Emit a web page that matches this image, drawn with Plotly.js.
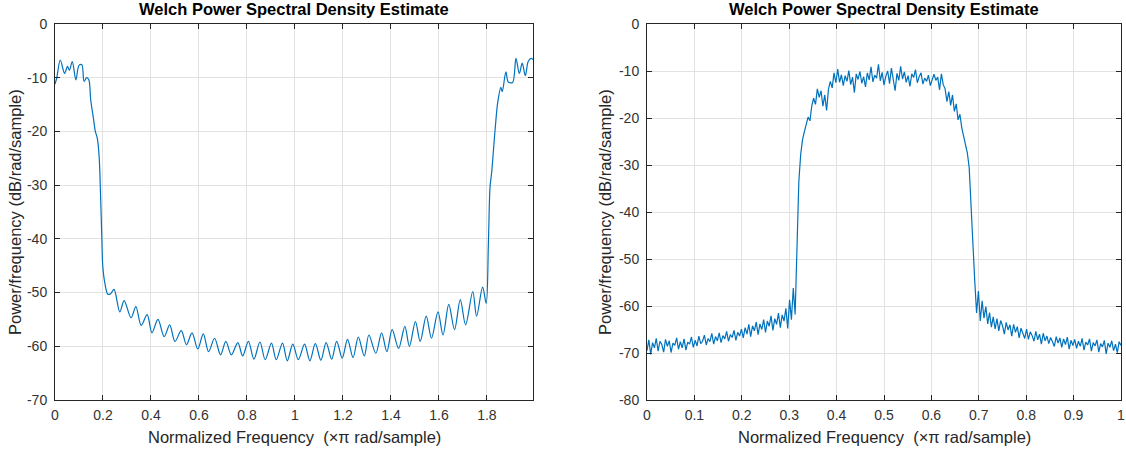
<!DOCTYPE html>
<html><head><meta charset="utf-8">
<script src="https://cdn.plot.ly/plotly-3.0.1.min.js"></script>
<style>html,body{margin:0;padding:0;background:#fff}#chart{width:1126px;height:452px}</style>
</head><body><div id="chart"></div>
<script>
// ---- Left panel: PSD over [0, 2) x pi rad/sample ----
const freqLeft = [0.000,0.007,0.022,0.040,0.052,0.060,0.072,0.087,0.100,0.112,0.121,0.132,0.141,0.149,0.160,0.168,0.176,0.184,0.190,0.195,0.199,0.208,0.220,0.232,0.246,
0.270,0.288,0.317,0.337,0.359,0.384,0.404,0.429,0.455,0.478,0.500,0.526,0.548,0.571,0.595,0.618,0.640,0.665,0.690,0.712,0.735,0.762,0.782,0.806,0.829,0.854,0.876,0.902,0.922,0.948,0.968,0.991,
1.014,1.040,1.062,1.085,1.108,1.130,1.153,1.174,1.197,1.219,1.242,1.264,1.289,1.308,1.337,1.361,1.383,1.405,1.432,1.458,1.477,1.502,1.522,1.547,1.569,1.596,1.617,1.641,1.665,1.689,1.711,1.741,1.757,1.782,1.797,
1.806,1.813,1.820,1.834,1.845,1.858,1.864,1.879,1.889,1.907,1.921,1.935,1.947,1.960,1.972,1.984,1.992];
const psdLeft = [-11.2,-10.1,-6.7,-9.2,-7.9,-8.6,-7.0,-10.4,-7.7,-7.6,-10.7,-10.0,-10.4,-14.2,-17.5,-20.0,-21.2,-24.7,-32.0,-39.6,-45.0,-48.3,-50.3,-50.2,-49.4,
-53.6,-51.5,-54.7,-52.6,-56.1,-54.1,-57.5,-55.0,-58.2,-56.0,-59.1,-57.1,-59.7,-57.5,-60.5,-57.7,-61.0,-58.5,-61.6,-59.1,-61.6,-59.3,-61.8,-59.1,-62.4,-59.2,-62.5,-59.4,-62.5,-59.4,-62.7,-59.6,
-62.5,-59.6,-62.7,-59.5,-62.6,-59.3,-62.4,-59.1,-62.2,-58.7,-62.1,-58.3,-61.8,-57.9,-61.3,-57.5,-61.0,-56.9,-60.4,-56.3,-60.0,-55.4,-59.1,-54.4,-58.5,-53.6,-57.9,-52.2,-56.9,-51.3,-56.0,-49.8,-54.4,-49.0,-52.0,
-41.0,-30.3,-27.5,-19.7,-14.6,-11.8,-12.6,-8.9,-10.8,-10.9,-6.4,-9.2,-7.3,-9.6,-7.0,-6.4,-6.6];

// ---- Right panel: PSD over [0, 1] x pi rad/sample, one value per frequency bin ----
const freqStepRight = 1/256;
const psdRight = [
-69.5,-67.2,-70.3,-67.8,-68.9,-66.9,-69.6,-67.5,-68.2,-69.8,
-67.1,-68.6,-67.4,-69.9,-67.9,-68.4,-66.8,-69.2,-67.6,-68.9,
-67.0,-69.4,-67.7,-68.1,-66.6,-68.8,-67.3,-68.5,-66.4,-68.0,
-67.5,-66.2,-68.3,-66.9,-67.6,-65.8,-68.1,-66.5,-67.4,-65.7,
-67.8,-66.3,-67.0,-65.4,-67.5,-66.1,-66.7,-65.2,-67.3,-65.6,
-66.4,-64.9,
-66.8,-64.6,-66.0,-63.9,-66.5,-64.2,-65.3,-63.4,-66.1,-63.8,
-65.0,-62.9,-65.6,-63.2,-64.3,-62.1,-65.2,-62.7,-63.9,-61.5,
-64.6,-61.9,-63.2,-60.5,-64.8,
-58.7,-62.9,-56.2,-61.8,-45.0,-33.5,-27.8,-24.6,-22.9,-21.0,-19.8,-20.6,-17.4,-15.8,-17.1,-13.8,-15.6,-14.2,-17.5,-15.1,-18.4,-13.9,-12.2,-13.6,-10.4,-12.5,-9.6,
-12.4,-10.8,-13.1,-11.0,-12.2,-9.9,-12.9,-11.3,-14.6,-10.6,
-11.8,-10.1,-12.6,-11.2,-13.4,-10.4,-11.9,-9.1,-12.3,-10.9,
-11.5,-8.6,-12.1,-10.3,-13.0,-11.1,-10.0,-12.7,-9.4,-11.6,
-14.2,-10.5,-12.0,-9.0,-11.7,-10.2,-12.4,-11.0,-13.3,-10.6,
-11.4,-9.7,-12.5,-11.2,-10.4,-12.8,-11.5,-12.2,-10.9,-13.1,
-11.6,-10.7,-12.0,-11.3,-14.0,
-10.6,-12.9,-13.8,-16.5,-14.4,-17.3,-15.1,-18.6,-17.0,-20.4,
-19.2,-22.1,-23.8,-25.6,-27.4,-30.5,-38.8,-48.5,
-54.6,-61.5,-56.8,-63.2,-58.9,-62.6,-60.1,
-63.8,-61.4,-64.5,-62.3,-64.9,-62.7,-65.3,-63.1,-64.2,-66.0,
-63.5,-65.1,-64.0,-66.4,-63.9,-65.6,-64.4,-66.8,-64.7,-65.9,
-66.9,-64.9,-67.1,-65.5,-66.3,-67.5,-65.4,-67.2,-66.0,-68.1,
-65.8,-67.4,-66.4,-68.0,-66.7,-67.6,-68.6,-66.5,-67.9,-66.8,
-68.8,-67.0,-68.2,-66.6,-69.2,-67.3,-68.4,-67.1,-69.0,-67.5,
-68.6,-66.9,-69.4,-67.7,-68.3,-67.0,-69.6,-67.8,-68.5,-67.2,
-69.8,-68.0,-68.7,-67.3,-70.2,-67.9,-68.8,-67.4,-69.5,-68.1,
-69.9,-67.6,-68.4];
const freqRight = psdRight.map((_, i) => i * freqStepRight);

// ---- Ticks ----
const xTicksLeft = [0,0.2,0.4,0.6,0.8,1,1.2,1.4,1.6,1.8];
const xTickLabelsLeft = ['0','0.2','0.4','0.6','0.8','1','1.2','1.4','1.6','1.8'];
const yTicksLeft = [0,-10,-20,-30,-40,-50,-60,-70];
const yTickLabelsLeft = ['0','-10','-20','-30','-40','-50','-60','-70'];
const xTicksRight = [0,0.1,0.2,0.3,0.4,0.5,0.6,0.7,0.8,0.9,1];
const xTickLabelsRight = ['0','0.1','0.2','0.3','0.4','0.5','0.6','0.7','0.8','0.9','1'];
const yTicksRight = [0,-10,-20,-30,-40,-50,-60,-70,-80];
const yTickLabelsRight = ['0','-10','-20','-30','-40','-50','-60','-70','-80'];

const titleText = 'Welch Power Spectral Density Estimate';
const xLabelText = 'Normalized Frequency\u00a0\u00a0(\u00d7\u03c0 rad/sample)';
const yLabelText = 'Power/frequency (dB/rad/sample)';

const FONT = 'Liberation Sans, Arial, Helvetica, sans-serif';
const lineCol = '#0072BD';

const traces = [
  {x: freqLeft, y: psdLeft, type: 'scatter', mode: 'lines', xaxis: 'x', yaxis: 'y',
   line: {color: lineCol, width: 1.2, shape: 'spline', smoothing: 0.9}, hoverinfo: 'x+y'},
  {x: freqRight, y: psdRight, type: 'scatter', mode: 'lines', xaxis: 'x2', yaxis: 'y2',
   line: {color: lineCol, width: 1.2}, hoverinfo: 'x+y'}
];

function axisBase(extra) {
  return Object.assign({
    showline: true, linecolor: '#262626', linewidth: 1, mirror: 'allticks',
    ticks: 'inside', ticklen: 5, tickwidth: 1, tickcolor: '#262626',
    showgrid: true, gridcolor: '#e2e2e2', gridwidth: 1, zeroline: false,
    tickfont: {family: FONT, size: 14, color: '#333333'}, tickmode: 'array',
    fixedrange: true
  }, extra);
}

const W = 1126, H = 452;
const yDom = [(H-400)/H, (H-24)/H];
const layout = {
  width: W, height: H, margin: {l: 0, r: 0, t: 0, b: 0},
  paper_bgcolor: '#ffffff', plot_bgcolor: '#ffffff', showlegend: false,
  font: {family: FONT, color: '#262626'},
  xaxis: axisBase({domain: [55/W, 533/W], range: [0, 1.992], anchor: 'y',
    tickvals: xTicksLeft, ticktext: xTickLabelsLeft, ticklabelstandoff: 2}),
  yaxis: axisBase({domain: yDom, range: [-70, 0], anchor: 'x',
    tickvals: yTicksLeft, ticktext: yTickLabelsLeft, ticklabelstandoff: 4}),
  xaxis2: axisBase({domain: [647/W, 1121/W], range: [0, 1], anchor: 'y2',
    tickvals: xTicksRight, ticktext: xTickLabelsRight, ticklabelstandoff: 2}),
  yaxis2: axisBase({domain: yDom, range: [-80, 0], anchor: 'x2',
    tickvals: yTicksRight, ticktext: yTickLabelsRight, ticklabelstandoff: 4}),
  annotations: [
    {text: '<b>' + titleText + '</b>', xref: 'paper', yref: 'paper', x: 294/W, y: (H-9)/H,
     xanchor: 'center', yanchor: 'middle', showarrow: false, font: {family: FONT, size: 16.5, color: '#000'}},
    {text: '<b>' + titleText + '</b>', xref: 'paper', yref: 'paper', x: 884/W, y: (H-9)/H,
     xanchor: 'center', yanchor: 'middle', showarrow: false, font: {family: FONT, size: 16.5, color: '#000'}},
    {text: xLabelText, xref: 'paper', yref: 'paper', x: 294/W, y: (H-437)/H,
     xanchor: 'center', yanchor: 'middle', showarrow: false, font: {family: FONT, size: 16.5, color: '#262626'}},
    {text: xLabelText, xref: 'paper', yref: 'paper', x: 884/W, y: (H-437)/H,
     xanchor: 'center', yanchor: 'middle', showarrow: false, font: {family: FONT, size: 16.5, color: '#262626'}},
    {text: yLabelText, xref: 'paper', yref: 'paper', x: 15/W, y: (H-212)/H, textangle: -90,
     xanchor: 'center', yanchor: 'middle', showarrow: false, font: {family: FONT, size: 16.5, color: '#262626'}},
    {text: yLabelText, xref: 'paper', yref: 'paper', x: 605/W, y: (H-212)/H, textangle: -90,
     xanchor: 'center', yanchor: 'middle', showarrow: false, font: {family: FONT, size: 16.5, color: '#262626'}}
  ]
};

Plotly.newPlot('chart', traces, layout, {displayModeBar: false, staticPlot: true});
</script>
</body></html>
